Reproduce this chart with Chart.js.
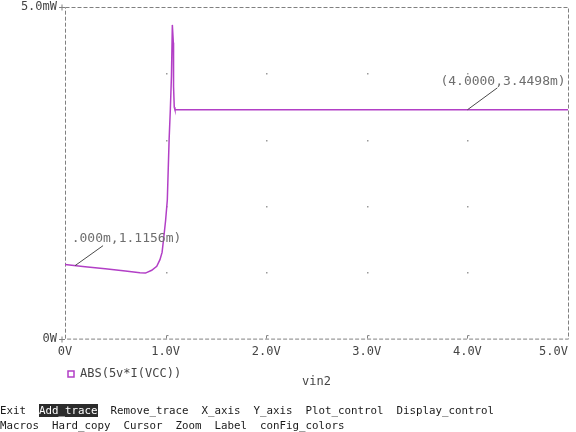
<!DOCTYPE html>
<html>
<head>
<meta charset="utf-8">
<script src="https://cdn.jsdelivr.net/npm/chart.js@4/dist/chart.umd.min.js"></script>
<style>
    html, body { margin: 0; padding: 0; background: #fff; }
    #wrap { position: relative; width: 576px; height: 432px; overflow: hidden; }
    #menu {
        position: absolute; left: 0; top: 403px;
        font-family: 'DejaVu Sans Mono', monospace; font-size: 10.8px;
        line-height: 15px; color: #1a1a1a; white-space: pre;
    }
    #menu .sel { background: #2b2b2b; color: #fff; }
</style>
</head>
<body>
<div id="wrap">
    <canvas id="plot" width="576" height="432"></canvas>
    <div id="menu">Exit  <span class="sel">Add_trace</span>  Remove_trace  X_axis  Y_axis  Plot_control  Display_control
Macros  Hard_copy  Cursor  Zoom  Label  conFig_colors</div>
</div>
<script>
// === DATEN ===
// vin2 [V] und ABS(5v*I(VCC)) [mW]
const vin = [0, 0.2, 0.4, 0.6, 0.745, 0.8, 0.862, 0.912, 0.944, 0.965, 0.98, 1.0, 1.017, 1.035,
    1.047, 1.058, 1.067, 1.077, 1.079, 1.086, 1.093, 2, 3, 4, 5];
const power = [1.1156, 1.085, 1.055, 1.02, 0.994, 0.988, 1.03, 1.09, 1.19, 1.3, 1.5, 1.78, 2.09, 3.0,
    3.45, 3.95, 4.73, 4.46, 3.8, 3.49, 3.4498, 3.4498, 3.4498, 3.4498, 3.4498];
const xTicks = [0, 1, 2, 3, 4, 5];
const xTickLabels = ['0V', '1.0V', '2.0V', '3.0V', '4.0V', '5.0V    '];
const yTicks = [0, 5];
const yTickLabels = ['0W', '5.0mW'];
const yGrid = [1, 2, 3, 4];
const traceName = 'ABS(5v*I(VCC))';
const xTitle = 'vin2';

// Cursor-Beschriftungen
const markX = [0.1, 4.0];
const markY = [1.10, 3.4498];
const markText = ['(0.000m,1.1156m)', '(4.0000,3.4498m)'];

const TRACE = '#b23fc6';
const FRAME = '#808080';
const MONO = "'DejaVu Sans Mono', monospace";

Chart.defaults.font.family = MONO;

// Rahmen, Gitterpunkte und Achsenmarken
const framePlugin = {
    id: 'frame',
    beforeDatasetsDraw(chart) {
        const { ctx, chartArea: a, scales: { x, y } } = chart;
        ctx.save();
        ctx.strokeStyle = FRAME;
        ctx.lineWidth = 1;
        ctx.setLineDash([4, 2]);
        ctx.strokeRect(a.left + 0.5, a.top + 0.5, a.right - a.left, a.bottom - a.top);
        ctx.setLineDash([]);
        // Gitterpunkte
        ctx.fillStyle = '#9a9a9a';
        xTicks.slice(1, -1).forEach(v => {
            yGrid.forEach(w => {
                ctx.fillRect(Math.round(x.getPixelForValue(v)), Math.round(y.getPixelForValue(w)), 1.5, 1.5);
            });
        });
        // Marken an der x-Achse
        ctx.beginPath();
        xTicks.slice(1, -1).forEach(v => {
            const px = Math.round(x.getPixelForValue(v)) + 0.5;
            ctx.moveTo(px, a.bottom);
            ctx.lineTo(px, a.bottom - 3);
            ctx.lineTo(px + 2, a.bottom - 3);
        });
        // Marken an der y-Achse
        yTicks.forEach(v => {
            const py = Math.round(y.getPixelForValue(v)) + 0.5;
            ctx.moveTo(a.left - 6, py);
            ctx.lineTo(a.left, py);
            ctx.moveTo(a.left - 3, py - 3);
            ctx.lineTo(a.left - 3, py + 3);
        });
        ctx.stroke();
        ctx.restore();
    },
    afterDatasetsDraw(chart) {
        const { ctx, chartArea: a, scales: { x, y } } = chart;
        const offsets = [[28, -20, -47, -7], [30, -22, -57, -6]];
        ctx.save();
        ctx.beginPath();
        ctx.rect(a.left + 7, 0, a.right - a.left, chart.height);
        ctx.clip();
        ctx.font = '13px ' + MONO;
        ctx.textBaseline = 'middle';
        markText.forEach((txt, i) => {
            const px = x.getPixelForValue(markX[i]);
            const py = y.getPixelForValue(markY[i]);
            const [dx, dy, tx, ty] = offsets[i];
            ctx.strokeStyle = '#4a4a4a';
            ctx.lineWidth = 1;
            ctx.beginPath();
            ctx.moveTo(px, py);
            ctx.lineTo(px + dx, py + dy);
            ctx.stroke();
            ctx.fillStyle = '#6e6e6e';
            ctx.fillText(txt, px + dx + tx, py + dy + ty);
        });
        ctx.restore();
    }
};

new Chart(document.getElementById('plot'), {
    type: 'line',
    data: {
        datasets: [{
            label: traceName,
            data: vin.map((v, i) => ({ x: v, y: power[i] })),
            borderColor: TRACE,
            backgroundColor: '#ffffff',
            borderWidth: 1.5,
            pointRadius: 0,
            tension: 0
        }]
    },
    options: {
        responsive: false,
        animation: false,
        layout: { padding: { left: 0, right: 8, top: 7, bottom: 42 } },
        plugins: {
            tooltip: { enabled: false },
            legend: {
                position: 'bottom',
                align: 'start',
                fullSize: false,
                labels: {
                    boxWidth: 6, boxHeight: 6, padding: 3,
                    color: '#444', font: { size: 12, family: MONO }
                }
            },
            title: {
                display: true,
                text: xTitle,
                position: 'bottom',
                fullSize: false,
                color: '#444',
                font: { size: 12, weight: 'normal', family: MONO },
                padding: { top: -15, bottom: 0 }
            }
        },
        scales: {
            x: {
                type: 'linear',
                min: 0, max: 5,
                grid: { display: false, drawTicks: false },
                border: { display: false },
                afterBuildTicks: s => { s.ticks = xTicks.map(v => ({ value: v })); },
                afterFit: s => { s.paddingLeft = 0; s.paddingRight = 0; },
                ticks: {
                    padding: 6, maxRotation: 0, autoSkip: false,
                    color: '#444', font: { size: 12, family: MONO },
                    callback: v => xTickLabels[xTicks.indexOf(v)]
                }
            },
            y: {
                type: 'linear',
                min: 0, max: 5,
                grid: { display: false, drawTicks: false },
                border: { display: false },
                afterBuildTicks: s => { s.ticks = yTicks.map(v => ({ value: v })); },
                afterFit: s => { s.width = 65; s.paddingTop = 0; s.paddingBottom = 0; },
                ticks: {
                    padding: 8,
                    color: '#444', font: { size: 12, family: MONO },
                    callback: v => yTickLabels[yTicks.indexOf(v)]
                }
            }
        }
    },
    plugins: [framePlugin]
});
</script>
</body>
</html>
